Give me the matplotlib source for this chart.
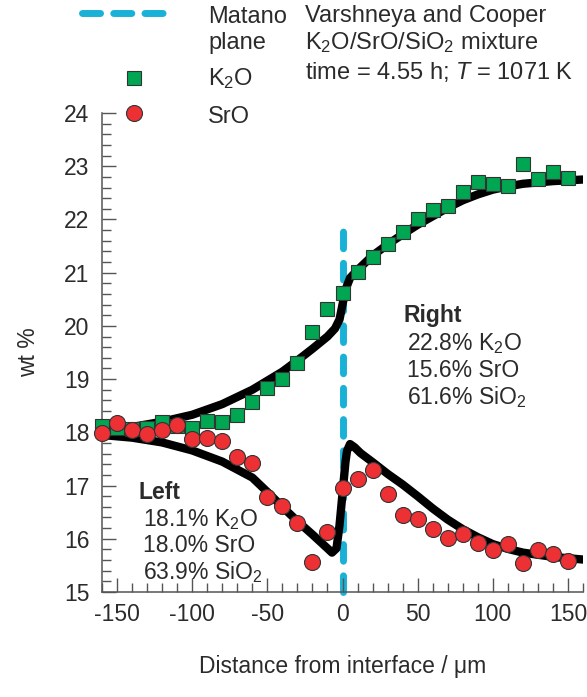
import numpy as np
import matplotlib
matplotlib.use("Agg")
import matplotlib.pyplot as plt
from matplotlib.lines import Line2D
from matplotlib.ticker import MultipleLocator

plt.rcParams["font.family"] = ["Liberation Sans", "DejaVu Sans"]
plt.rcParams["mathtext.fontset"] = "custom"
plt.rcParams["mathtext.rm"] = "Liberation Sans"
plt.rcParams["mathtext.it"] = "Liberation Sans:italic"
plt.rcParams["axes.unicode_minus"] = False

### data ###

x_pts = np.arange(-160, 151, 10)

k2o = [18.12, 18.09, 18.07, 18.09, 18.19, 18.12, 18.09, 18.21, 18.19, 18.32,
       18.57, 18.84, 19.01, 19.31, 19.89, 20.31,
       20.62, 21.01, 21.29, 21.54, 21.77, 22.01, 22.18, 22.26, 22.51, 22.71,
       22.67, 22.62, 23.04, 22.76, 22.90, 22.78]

sro = [17.98, 18.17, 18.04, 17.96, 18.04, 18.13, 17.87, 17.90, 17.84, 17.53,
       17.42, 16.78, 16.61, 16.29, 15.57, 16.12,
       16.95, 17.13, 17.29, 16.84, 16.45, 16.37, 16.18, 16.02, 16.09, 15.92,
       15.79, 15.90, 15.54, 15.79, 15.71, 15.59]

# fit curves
k_fit_x = [-160, -140, -120, -100, -80, -60, -40, -30, -20, -10, -5, -2, 0, 2, 5, 10,
           20, 30, 40, 50, 60, 70, 80, 90, 100, 110, 120, 140, 160]
k_fit_y = [18.05, 18.10, 18.20, 18.33, 18.53, 18.80, 19.14, 19.35, 19.57, 19.80, 19.95,
           20.12, 20.40, 20.68, 20.90, 21.05, 21.32, 21.53, 21.72, 21.90, 22.06,
           22.22, 22.36, 22.47, 22.56, 22.62, 22.67, 22.72, 22.75]

s_fit_x = [-160, -140, -120, -100, -80, -60, -50, -40, -30, -20, -10, -7, -4, -2, 0,
           2, 3, 5, 8, 12, 20, 30, 40, 50, 60, 70, 80, 90, 100, 110, 120, 140, 160]
s_fit_y = [17.95, 17.90, 17.81, 17.66, 17.45, 17.15, 16.88, 16.60, 16.33, 16.08,
           15.82, 15.74, 15.82, 16.25, 16.85, 17.45, 17.65, 17.78, 17.72, 17.61,
           17.44, 17.22, 17.02, 16.80, 16.57, 16.36, 16.18, 16.03, 15.90, 15.81,
           15.74, 15.66, 15.61]

matano_x = 0
matano_top = 22

left_lines = ["18.1% K$_2$O", "18.0% SrO", "63.9% SiO$_2$"]
right_lines = ["22.8% K$_2$O", "15.6% SrO", "61.6% SiO$_2$"]

cyan = "#1ab1d6"
green = "#00a651"
red = "#ec3034"
txt = "#2b2b2b"
fs = 16.5

### plot ###

fig = plt.figure(figsize=(5.87, 6.97), dpi=100)
ax = fig.add_axes([102/587, 105/697, 481/587, 479/697])

dash = (0, (2.4, 2.1))
ax.plot([matano_x, matano_x], [15, matano_top], color=cyan, lw=5, ls=dash,
        dash_capstyle="round", zorder=1, clip_on=False)

ax.plot(k_fit_x, k_fit_y, color="black", lw=6, solid_capstyle="round",
        solid_joinstyle="round", zorder=2)
ax.plot(s_fit_x, s_fit_y, color="black", lw=6, solid_capstyle="round",
        solid_joinstyle="round", zorder=2)

ax.plot(x_pts, k2o, "s", ms=10.5, mfc=green, mec="#333333", mew=0.8, zorder=3, clip_on=False)
ax.plot(x_pts, sro, "o", ms=11.5, mfc=red, mec="#333333", mew=0.8, zorder=4, clip_on=False)

ax.set_xlim(-160, 160)
ax.set_ylim(15, 24)
ax.xaxis.set_major_locator(MultipleLocator(50))
ax.xaxis.set_minor_locator(MultipleLocator(10))
ax.yaxis.set_major_locator(MultipleLocator(1))
ax.yaxis.set_minor_locator(MultipleLocator(0.2))
ax.set_xticks([-150, -100, -50, 0, 50, 100, 150])

for s in ["top", "right"]:
    ax.spines[s].set_visible(False)
for s in ["left", "bottom"]:
    ax.spines[s].set_color("#555555")
    ax.spines[s].set_linewidth(1.1)

ax.tick_params(which="both", direction="in", color="#555555", width=1.0,
               labelsize=fs, labelcolor=txt)
ax.tick_params(which="major", length=10)
ax.tick_params(which="minor", length=6.5)
ax.tick_params(axis="y", pad=9)
ax.tick_params(axis="x", pad=8)

ax.set_xlabel("Distance from interface / μm", fontsize=fs, color=txt, labelpad=21)
ax.set_ylabel("wt %", fontsize=fs, color=txt, labelpad=17)

# composition notes
ax.text(-136, 16.87, "Left", fontsize=fs, fontweight="bold", color=txt, va="center")
for i, s in enumerate(left_lines):
    ax.text(-133, 16.37 - 0.50*i, s, fontsize=fs, color=txt, va="center")

ax.text(40.5, 20.19, "Right", fontsize=fs, fontweight="bold", color=txt, va="center")
for i, s in enumerate(right_lines):
    ax.text(43, 19.67 - 0.50*i, s, fontsize=fs, color=txt, va="center")

# legend keys and header text above the axes
fig.add_artist(Line2D([82/587, 172/587], [1-13/697, 1-13/697], color=cyan, lw=5,
                      ls=(0, (2.6, 1.9)), dash_capstyle="round"))
fig.add_artist(Line2D([134/587], [1-78/697], marker="s", ms=10.5, mfc=green,
                      mec="#333333", mew=0.8, ls="none"))
fig.add_artist(Line2D([134/587], [1-113/697], marker="o", ms=11.5, mfc=red,
                      mec="#333333", mew=0.8, ls="none"))

fig.text(208/587, 1-23/697, "Matano", fontsize=17, color=txt, va="baseline")
fig.text(208/587, 1-49/697, "plane", fontsize=17, color=txt, va="baseline")
fig.text(208/587, 1-85/697, "K$_2$O", fontsize=17, color=txt, va="baseline")
fig.text(208/587, 1-123/697, "SrO", fontsize=17, color=txt, va="baseline")

fig.text(305/587, 1-22/697, "Varshneya and Cooper", fontsize=17, color=txt, va="baseline")
fig.text(305/587, 1-49/697, "K$_2$O/SrO/SiO$_2$ mixture", fontsize=17, color=txt, va="baseline")
fig.text(305/587, 1-79/697, "time = 4.55 h; $T$ = 1071 K", fontsize=17, color=txt, va="baseline")

fig.savefig("out.png", dpi=100)
